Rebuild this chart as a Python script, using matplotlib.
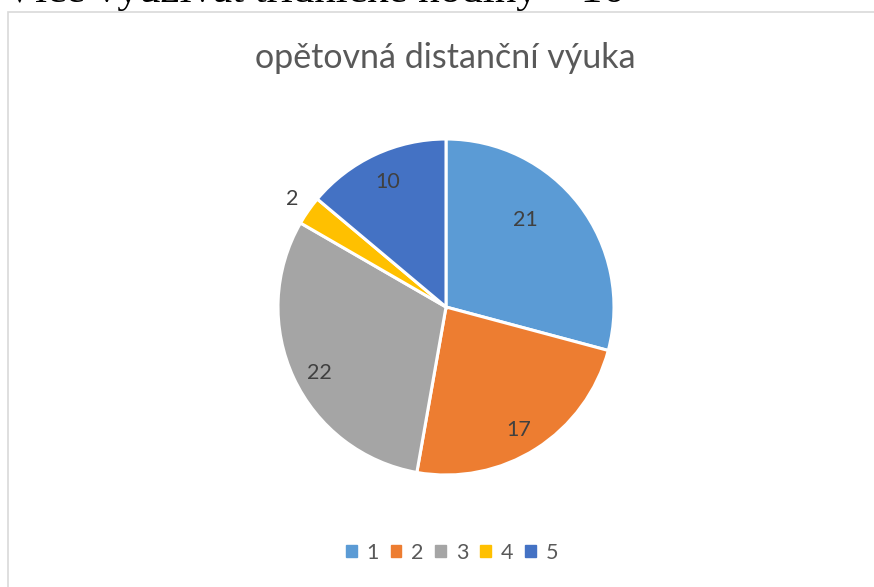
import matplotlib.pyplot as plt
import numpy as np
from matplotlib.patches import Rectangle

# data
labels = ['1', '2', '3', '4', '5']
values = [21, 17, 22, 2, 10]
colors = ['#5B9BD5', '#ED7D31', '#A5A5A5', '#FFC000', '#4472C4']

# label placement (radius fraction, angle shift in degrees)
label_dist = [0.70, 0.85, 0.85, 1.12, 0.82]
label_shift = [10, -2, 2.5, 0, 0]

plt.rcParams['font.family'] = ['Lato', 'DejaVu Sans']

W, H = 874, 587
fig = plt.figure(figsize=(W / 100, H / 100), dpi=100)

# text from the page above the chart, cut off at the top
fig.text(4 / W, 1 - 2 / H, 'Více využívat třídnické hodiny – 16', family=['Liberation Serif'],
         fontsize=31, color='black', va='baseline', ha='left')

# chart border
fig.patches.append(Rectangle((8 / W, -0.01), 1.0, 1 - 12 / H + 0.01, transform=fig.transFigure,
                             fill=False, edgecolor='#D9D9D9', linewidth=1.2))

fig.text(445 / W, 1 - 58 / H, 'opětovná distanční výuka', ha='center', va='center',
         fontsize=24.5, color='#595959')

cx, cy, r = 446, 307, 168
ax = fig.add_axes([(cx - r) / W, (H - cy - r) / H, 2 * r / W, 2 * r / H])
wedges, _ = ax.pie(values, colors=colors, startangle=90, counterclock=False,
                   wedgeprops=dict(edgecolor='white', linewidth=2.2))
ax.set_xlim(-1, 1)
ax.set_ylim(-1, 1)
ax.set_aspect('equal')

for w, v, d, s in zip(wedges, values, label_dist, label_shift):
    ang = np.deg2rad((w.theta1 + w.theta2) / 2 + s)
    ax.text(d * np.cos(ang), d * np.sin(ang), str(v), ha='center', va='center',
            fontsize=15.5, color='#404040', clip_on=False)

handles = [Rectangle((0, 0), 1, 1, color=c) for c in colors]
fig.legend(handles, labels, loc='center', bbox_to_anchor=(452 / W, 1 - 553 / H), ncol=5,
           frameon=False, fontsize=15.5, labelcolor='#595959', handlelength=0.5, handleheight=0.5,
           handletextpad=0.45, columnspacing=0.55)

fig.savefig('out.png', dpi=100)
